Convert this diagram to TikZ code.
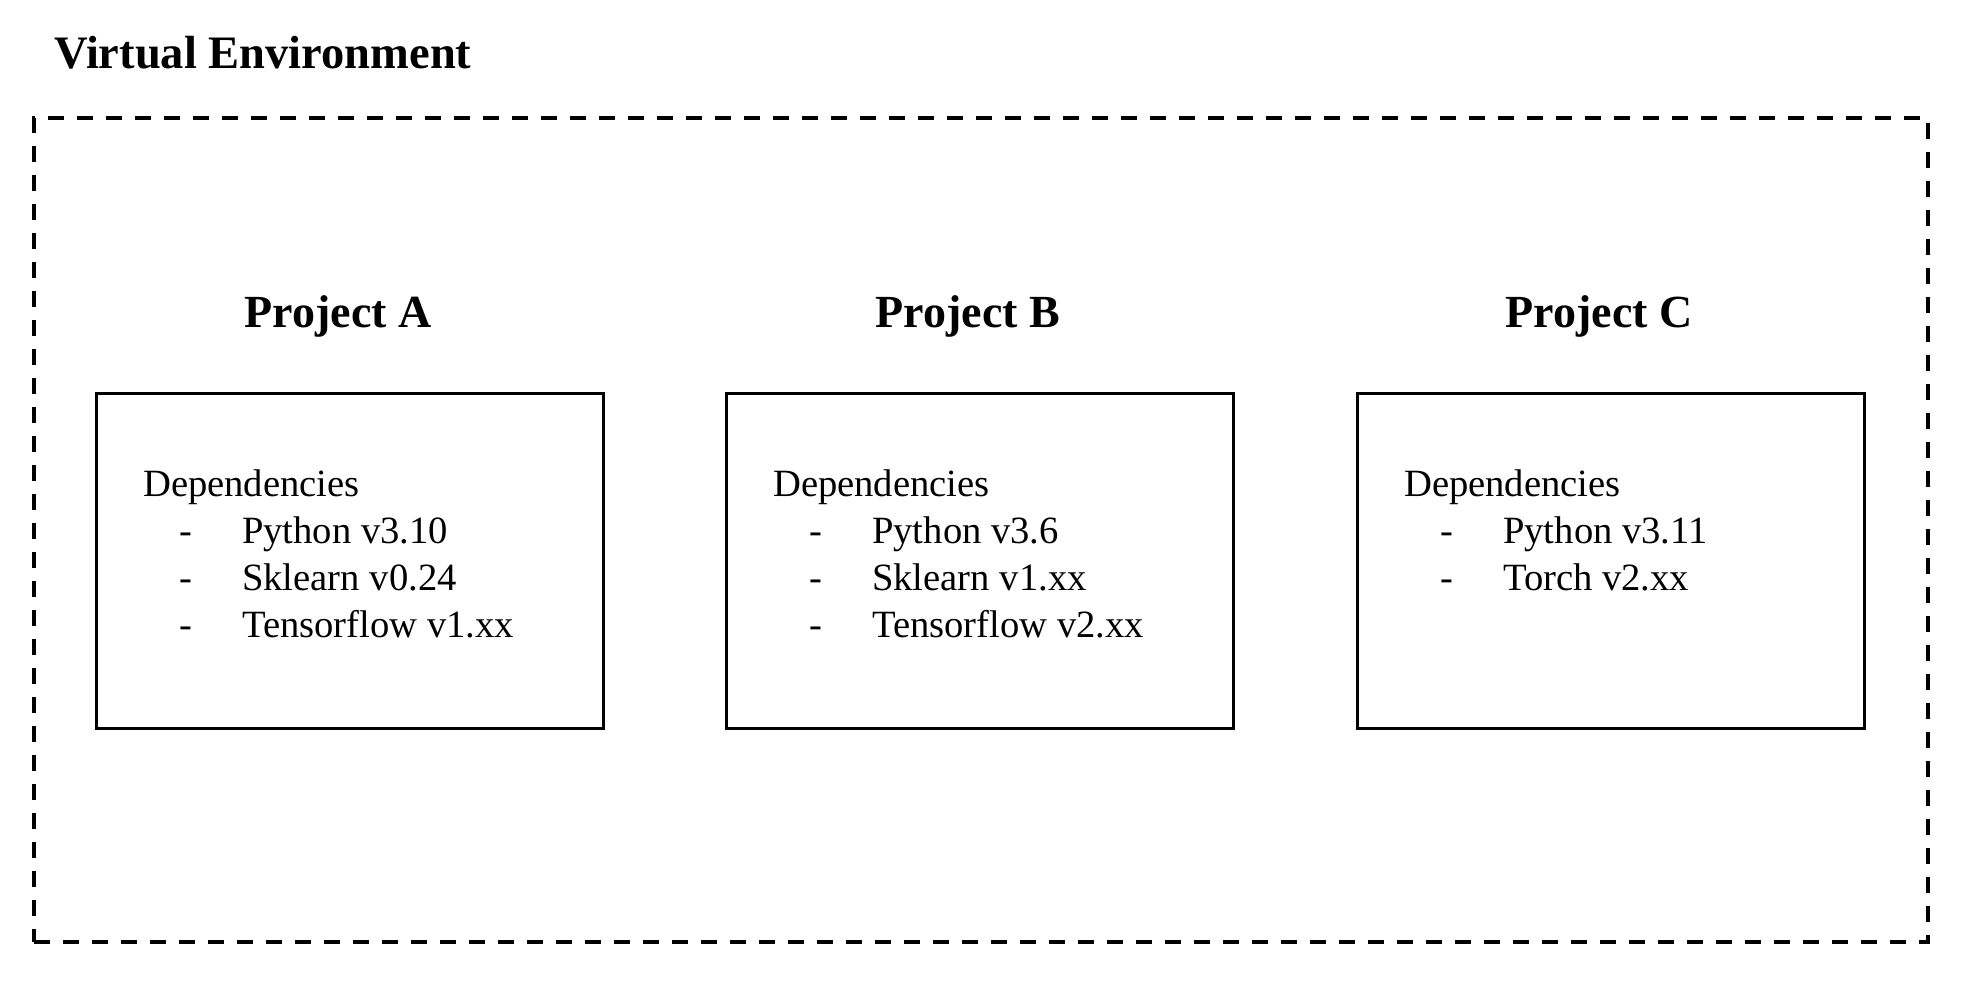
\documentclass[tikz,border=0pt]{standalone}
\usepackage{fontspec}
\setmainfont{Liberation Serif}
\tikzset{
    envbox/.style={draw, line width=4pt, dash pattern=on 16pt off 13pt, minimum width=1894pt, minimum height=824pt, inner sep=0pt},
    projbox/.style={draw, line width=3pt, minimum width=507pt, minimum height=335pt, anchor=north west, inner sep=0pt},
    projname/.style={anchor=base, inner sep=0pt, font=\fontsize{46}{55}\selectfont\bfseries},
    deptext/.style={anchor=base west, inner sep=0pt, font=\fontsize{38.6}{47}\selectfont},
}
\begin{document}
\begin{tikzpicture}[x=1pt, y=-1pt]
    \useasboundingbox (0,0) rectangle (1964,1008);
    \node[anchor=base west, inner sep=0pt, font=\fontsize{46.5}{55}\selectfont\bfseries] (title) at (54,69) {Virtual Environment};
    \node[envbox] (venv) at (981,530) {};
    % project A
    \node[projbox] (boxA) at (95,392) {};
    \node[projname] (nameA) at (338,327) {Project A};
    \node[deptext] (depA) at (143,496) {Dependencies};
    \node[deptext] (dashA1) at (179,543) {-};
    \node[deptext] (itemA1) at (242,543) {Python v3.10};
    \node[deptext] (dashA2) at (179,590) {-};
    \node[deptext] (itemA2) at (242,590) {Sklearn v0.24};
    \node[deptext] (dashA3) at (179,637) {-};
    \node[deptext] (itemA3) at (242,637) {Tensorflow v1.xx};
    % project B
    \node[projbox] (boxB) at (725,392) {};
    \node[projname] (nameB) at (968,327) {Project B};
    \node[deptext] (depB) at (773,496) {Dependencies};
    \node[deptext] (dashB1) at (809,543) {-};
    \node[deptext] (itemB1) at (872,543) {Python v3.6};
    \node[deptext] (dashB2) at (809,590) {-};
    \node[deptext] (itemB2) at (872,590) {Sklearn v1.xx};
    \node[deptext] (dashB3) at (809,637) {-};
    \node[deptext] (itemB3) at (872,637) {Tensorflow v2.xx};
    % project C
    \node[projbox] (boxC) at (1356,392) {};
    \node[projname] (nameC) at (1599,327) {Project C};
    \node[deptext] (depC) at (1404,496) {Dependencies};
    \node[deptext] (dashC1) at (1440,543) {-};
    \node[deptext] (itemC1) at (1503,543) {Python v3.11};
    \node[deptext] (dashC2) at (1440,590) {-};
    \node[deptext] (itemC2) at (1503,590) {Torch v2.xx};
\end{tikzpicture}
\end{document}
